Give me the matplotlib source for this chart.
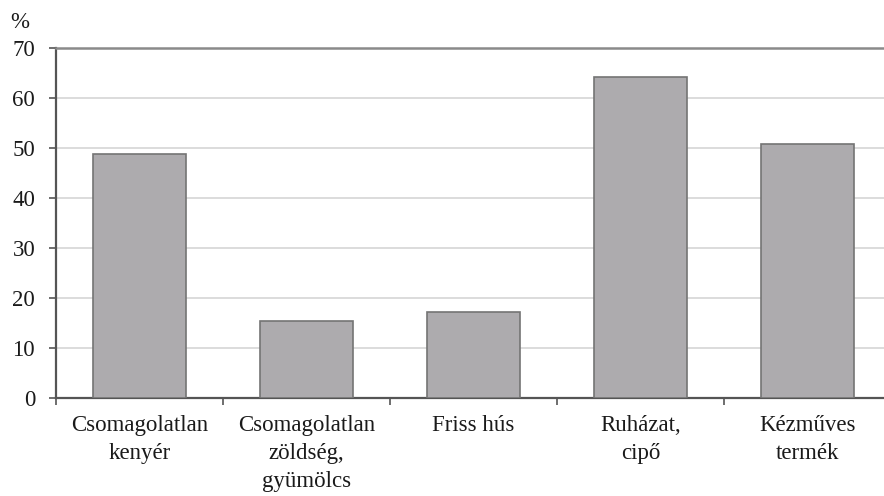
import matplotlib.pyplot as plt

# --- Data ---
categories = ['Csomagolatlan\nkenyér', 'Csomagolatlan\nzöldség,\ngyümölcs',
              'Friss hús', 'Ruházat,\ncipő', 'Kézműves\ntermék']
values = [48.8, 15.4, 17.3, 64.2, 50.7]
y_ticks = [0, 10, 20, 30, 40, 50, 60, 70]

plt.rcParams['font.family'] = ['Liberation Serif', 'DejaVu Serif']

fig = plt.figure(figsize=(8.84, 4.96), dpi=100)
ax = fig.add_axes([56 / 884, 98 / 496, 1 - 56 / 884, 350 / 496])

x = list(range(len(categories)))
ax.bar(x, values, width=0.557, color='#adabae', edgecolor='#747474',
       linewidth=1.2, zorder=3)

ax.set_yticks(y_ticks)
ax.set_ylim(0, 70)
ax.set_xticks(x)
ax.set_xticklabels(categories, fontsize=16.5, color='#1a1a1a', linespacing=1.45)
ax.set_xticks([i - 0.5 for i in range(len(categories) + 1)], minor=True)
# limits after the ticks, otherwise set_xticks widens the view
ax.set_xlim(-0.5, 4.5 - 7 / 167)

ax.grid(axis='y', color='#d9d9d9', linewidth=1.3, zorder=0)
ax.tick_params(axis='y', labelsize=16.5, length=5, width=1.2, color='#555555',
               pad=10, labelcolor='#1a1a1a')
ax.tick_params(axis='x', which='major', length=0, pad=12)
ax.tick_params(axis='x', which='minor', length=5, width=1.2, color='#555555')

ax.spines['right'].set_visible(False)
ax.spines['top'].set_color('#8a8a8a')
ax.spines['top'].set_linewidth(1.8)
ax.spines['left'].set_color('#555555')
ax.spines['left'].set_linewidth(1.6)
ax.spines['bottom'].set_color('#555555')
ax.spines['bottom'].set_linewidth(1.6)

fig.text(10 / 884, 1 - 28 / 496, '%', fontsize=16.5, color='#1a1a1a')

fig.savefig('out.png', dpi=100)
